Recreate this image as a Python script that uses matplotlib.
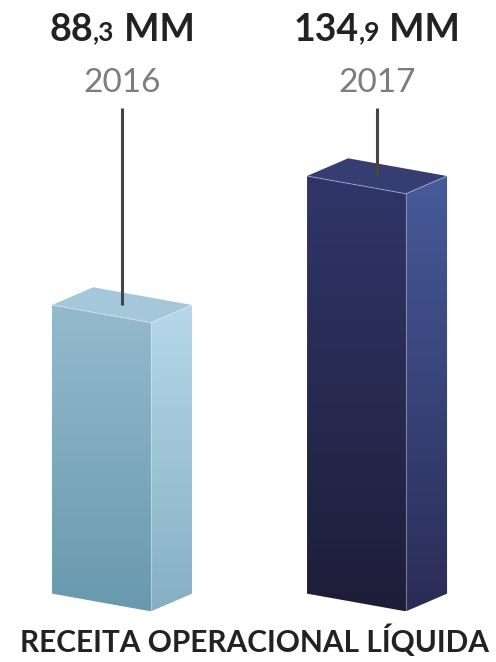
import numpy as np
import matplotlib
matplotlib.use("Agg")
import matplotlib.pyplot as plt
from matplotlib.patches import Polygon
from matplotlib.colors import LinearSegmentedColormap
from matplotlib.offsetbox import TextArea, HPacker, AnnotationBbox

plt.rcParams['font.family'] = ['Lato', 'DejaVu Sans']

years = ['2016', '2017']
values = [88.3, 134.9]
int_parts = ['88', '134']
dec_parts = [',3', ',9']
unit = 'MM'
title = 'RECEITA OPERACIONAL LÍQUIDA'

# face colours (top of gradient, bottom of gradient)
front_cols = [('#95bacd', '#6899ae'), ('#30366a', '#1e1d38')]
side_cols = [('#b6d8ea', '#86afc3'), ('#475a9a', '#2a2c56')]
top_cols = ['#a4c7d9', '#353d72']

base = -16.0      # bottom of the boxes
w = 0.388         # front face width
d = 0.161         # side depth
s = 6.4           # slant of the box edges (value units)

fig = plt.figure(figsize=(4.96, 6.62), dpi=100)
ax = fig.add_axes([0, 0, 1, 1])
ax.set_xlim(-0.398, 1.547)
ax.set_ylim(-40.7, 198.5)
ax.axis('off')


def face(pts, c1, c2):
    pts = np.array(pts)
    poly = Polygon(pts, closed=True, facecolor='none', edgecolor='none')
    ax.add_patch(poly)
    cmap = LinearSegmentedColormap.from_list('g', [c2, c1])
    grad = np.linspace(0, 1, 256).reshape(-1, 1)
    im = ax.imshow(grad, cmap=cmap, origin='lower', aspect='auto',
                   extent=(pts[:, 0].min(), pts[:, 0].max(), pts[:, 1].min(), pts[:, 1].max()),
                   interpolation='bilinear', zorder=2)
    im.set_clip_path(poly)


for i, v in enumerate(values):
    x0 = i - w / 2
    x1 = x0 + w
    front = [(x0, v), (x1, v - s), (x1, base - s), (x0, base)]
    side = [(x1, v - s), (x1 + d, v), (x1 + d, base), (x1, base - s)]
    top = [(x0, v), (x0 + d, v + s), (x1 + d, v), (x1, v - s)]
    face(front, *front_cols[i])
    face(side, *side_cols[i])
    ax.add_patch(Polygon(top, closed=True, facecolor=top_cols[i], edgecolor='none', zorder=3))
    # light edges
    ax.plot([x0, x1, x1 + d], [v, v - s, v], color='white', alpha=0.35, lw=0.8, zorder=4)
    ax.plot([x1, x1], [v - s, base - s], color='white', alpha=0.35, lw=0.8, zorder=4)

    cx = x0 + (w + d) / 2
    ax.plot([cx, cx], [159.5, v], color='#454545', lw=2.2, zorder=5, solid_capstyle='butt')
    ax.text(cx, 165.2, years[i], ha='center', va='baseline', fontsize=24,
            color='#7d7d7d', fontweight='normal')

    parts = [TextArea(int_parts[i], textprops=dict(fontsize=27, fontweight='bold', color='#222222')),
             TextArea(dec_parts[i], textprops=dict(fontsize=19, fontweight='bold', color='#222222')),
             TextArea(' ' + unit, textprops=dict(fontsize=27, fontweight='bold', color='#222222'))]
    pack = HPacker(children=parts, align='baseline', pad=0, sep=0)
    ab = AnnotationBbox(pack, (cx, 187.8), xycoords='data', frameon=False,
                        box_alignment=(0.5, 0.5), pad=0)
    ax.add_artist(ab)

fig.text(254.5 / 496, 10 / 662, title, ha='center', va='baseline', fontsize=21.5,
         fontweight='bold', color='#222222')

fig.savefig('out.png', dpi=100)
